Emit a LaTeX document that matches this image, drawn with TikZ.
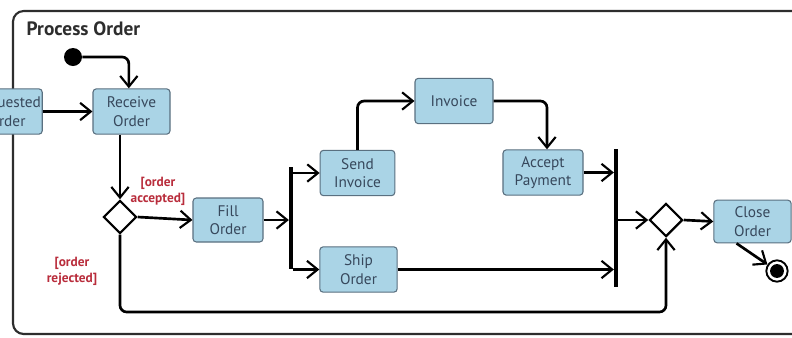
\documentclass[tikz,border=0pt]{standalone}
\usepackage{fontspec}
\setmainfont{PT Sans}
\usetikzlibrary{arrows.meta,shapes.geometric}
\definecolor{boxfill}{RGB}{170,212,230}
\definecolor{boxline}{RGB}{90,112,128}
\definecolor{boxtext}{RGB}{55,72,92}
\definecolor{guard}{RGB}{185,45,60}
\definecolor{framec}{RGB}{45,45,45}
\tikzset{
  act/.style={draw=boxline, line width=0.8pt, fill=boxfill, rounded corners=2.5pt,
    text=boxtext, font=\fontsize{11.5}{14}\selectfont, align=center, inner sep=1pt,
    minimum width=57pt, minimum height=34pt},
  flow/.style={line width=2pt, draw=black, rounded corners=5pt,
    -{Straight Barb[length=8pt,width=13pt,line width=1.6pt]}},
  choice/.style={diamond, draw=black, line width=1.6pt, fill=white, inner sep=0pt,
    minimum width=25pt, minimum height=25pt},
  bar/.style={rectangle, fill=black, inner sep=0pt, minimum width=2.8pt},
  guardlbl/.style={text=guard, font=\fontsize{10}{12}\selectfont\bfseries, align=center},
}
\begin{document}
\begin{tikzpicture}[x=0.75pt, y=-0.75pt]
\useasboundingbox (0,0) rectangle (792,337);
\clip (0,0) rectangle (792,337);
\fill[white] (0,0) rectangle (792,337);

% activity frame
\draw[framec, line width=1.6pt, rounded corners=8pt] (13,334) rectangle (815,11);
\node[anchor=west, font=\fontsize{14.5}{16}\selectfont\bfseries, text=framec] (title) at (22,29) {Process Order};

% nodes
\node[circle, fill=black, inner sep=0pt, minimum size=13.5pt] (start) at (73,57) {};
\node[act, minimum width=52.5pt] (req) at (7,111.5) {Requested\\Order};
\node[act, minimum width=57.75pt] (recv) at (131.5,111.5) {Receive\\Order};
\node[choice] (dec) at (120,217) {};
\node[act, minimum width=52.5pt, minimum height=33pt] (fill) at (228,220) {Fill\\Order};
\node[bar, minimum height=76pt] (fork) at (291,218) {};
\node[act, minimum width=56pt] (send) at (357.5,173) {Send\\Invoice};
\node[act, minimum width=58pt] (ship) at (358.5,269.5) {Ship\\Order};
\node[act, minimum width=58.5pt] (inv) at (454,101) {Invoice};
\node[act, minimum width=60pt] (acc) at (543,172.5) {Accept\\Payment};
\node[bar, minimum height=104pt] (join) at (616,218) {};
\node[choice] (merge) at (666,220) {};
\node[act, minimum width=58pt, minimum height=32pt] (close) at (752.5,221.5) {Close\\Order};
\node[circle, draw=black, line width=1.4pt, fill=white, inner sep=0pt, minimum size=16pt] (final) at (777,271) {};
\fill[black] (final.center) circle (5.2pt);

% guards
\node[guardlbl] (acclbl) at (158,191) {[order\\accepted]};
\node[guardlbl] (rejlbl) at (72,271) {[order\\rejected]};

% control flows
\draw[flow] (start) -| ([xshift=-2pt]recv.north);
\draw[flow] (req) -- (recv);
\draw[flow] (recv.south -| dec) -- (dec.north);
\draw[flow] (dec.east) -- (fill.west);
\draw[flow] (fill.east) -- (fill.east -| fork.west);
\draw[flow] (fork.east |- send) -- (send.west);
\draw[flow] (fork.east |- ship) -- (ship.west);
\draw[flow] (send.north) |- (inv.west);
\draw[flow] (inv.east) -| ([xshift=3pt]acc.north);
\draw[flow] (acc.east) -- (acc.east -| join.west);
\draw[flow] (ship.east) -- (ship.east -| join.west);
\draw[flow] (join.east |- merge) -- (merge.west);
\draw[flow] (merge.east) -- (close.west);
\draw[flow] ([xshift=-12pt]close.south) -- (final);
\draw[flow] (dec.south) |- (400,312) -| (merge.south);
\end{tikzpicture}
\end{document}
